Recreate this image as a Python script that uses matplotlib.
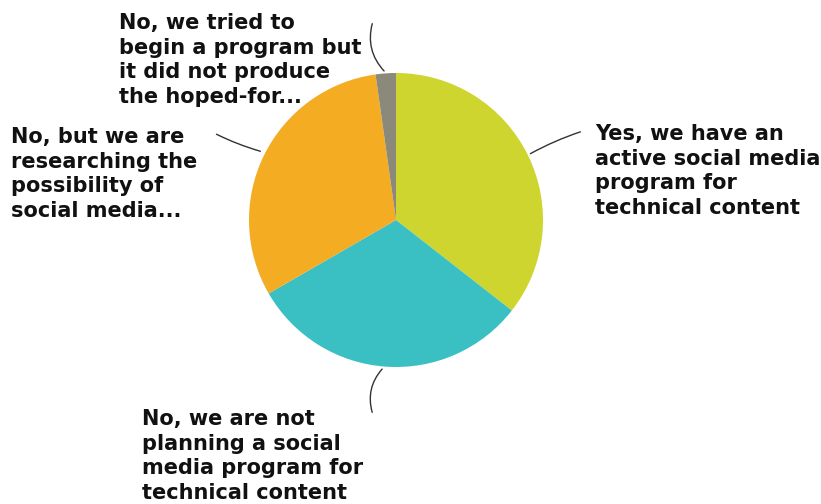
import matplotlib
matplotlib.use("Agg")
import matplotlib.pyplot as plt

# Survey answers, counts out of 45 respondents
labels = [
    "Yes, we have an\nactive social media\nprogram for\ntechnical content",
    "No, we are not\nplanning a social\nmedia program for\ntechnical content",
    "No, but we are\nresearching the\npossibility of\nsocial media...",
    "No, we tried to\nbegin a program but\nit did not produce\nthe hoped-for...",
]
counts = [16, 14, 14, 1]
colors = ["#cfd52f", "#3abfc2", "#f4ac23", "#8b8a7a"]

W, H = 821, 504
fig = plt.figure(figsize=(W / 100, H / 100), dpi=100)
ax = fig.add_axes([0, 0, 1, 1])

cx, cy, r = 396, H - 220, 147
ax.pie(counts, colors=colors, startangle=90, counterclock=False,
       center=(cx, cy), radius=r, frame=True)
ax.set_xlim(0, W)
ax.set_ylim(0, H)
ax.set_aspect("equal")
ax.axis("off")

# label text position (top-left), leader start on the pie edge, leader end
text_pos = [(595, 124), (142, 409), (11, 127), (119, 13)]
tips = [(528, 155), (384, 367), (263, 152), (386, 73)]
ends = [(583, 131), (373, 415), (214, 133), (373, 21)]
rads = [0.05, -0.3, 0.05, 0.3]

for lab, (tx, ty), tip, end, rad in zip(labels, text_pos, tips, ends, rads):
    ax.text(tx, H - ty, lab, ha="left", va="top", fontsize=15,
            fontweight="bold", color="#111111", linespacing=1.29,
            family="DejaVu Sans")
    ax.annotate("", xy=(tip[0], H - tip[1]), xytext=(end[0], H - end[1]),
                arrowprops=dict(arrowstyle="-", color="#333333", lw=1.0,
                                connectionstyle=f"arc3,rad={rad}"))

fig.savefig("out.png", dpi=100)
